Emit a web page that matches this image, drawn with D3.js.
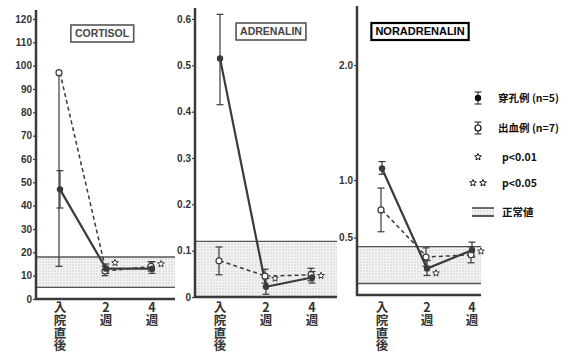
<!DOCTYPE html>
<html>
<head>
<meta charset="utf-8">
<script src="https://cdn.jsdelivr.net/npm/d3@7"></script>
<style>
  html, body { margin: 0; padding: 0; background: #fff; }
  svg { display: block; }
  .tick-label { font-family: "Liberation Sans Narrow", "Liberation Sans", Arial, sans-serif; font-weight: bold; font-size: 10px; fill: #333; }
  .cat { font-family: "Noto Sans CJK JP", sans-serif; font-weight: bold; font-size: 12.5px; fill: #333;
         writing-mode: vertical-rl; text-orientation: upright; letter-spacing: 0.3px; }
  .legend { font-family: "Noto Sans CJK JP", sans-serif; font-weight: bold; font-size: 10.5px; fill: #111; }
</style>
</head>
<body>
<div id="chart"></div>
<script>
// categories on x, shared by the three panels
const categories = ["入院直後", "2週", "4週"];

// CORTISOL
const cortisolPerf = [47, 13, 13];        // 穿孔例 mean
const cortisolPerfLo = [39, 11, 11];
const cortisolPerfHi = [55, 15, 16];
const cortisolBleed = [97, 12, 14];       // 出血例 mean
const cortisolBleedLo = [14, 10, 12];
const cortisolBleedHi = [97, 14, 16];
const cortisolNormal = [5, 18];
const cortisolTicks = [0, 10, 20, 30, 40, 50, 60, 70, 80, 90, 100, 110, 120];
const cortisolStars = [{ cat: "2週", v: 15.5, n: 1 }, { cat: "4週", v: 15, n: 1 }];

// ADRENALIN
const adrenalinPerf = [0.515, 0.022, 0.042];
const adrenalinPerfLo = [0.415, 0.006, 0.03];
const adrenalinPerfHi = [0.61, 0.04, 0.055];
const adrenalinBleed = [0.078, 0.045, 0.048];
const adrenalinBleedLo = [0.048, 0.03, 0.035];
const adrenalinBleedHi = [0.108, 0.06, 0.062];
const adrenalinNormal = [0, 0.12];
const adrenalinTicks = [0, 0.1, 0.2, 0.3, 0.4, 0.5, 0.6];
const adrenalinStars = [{ cat: "2週", v: 0.04, n: 1 }, { cat: "4週", v: 0.046, n: 1 }];

// NORADRENALIN
const noradPerf = [1.1, 0.23, 0.39];
const noradPerfLo = [1.05, 0.17, 0.33];
const noradPerfHi = [1.16, 0.3, 0.46];
const noradBleed = [0.74, 0.33, 0.35];
const noradBleedLo = [0.55, 0.25, 0.28];
const noradBleedHi = [0.93, 0.41, 0.42];
const noradNormal = [0.1, 0.42];
const noradTicks = [0.5, 1.0, 2.0];
const noradStars = [{ cat: "2週", v: 0.19, n: 1 }, { cat: "4週", v: 0.38, n: 1 }];

// legend
const legendItems = ["穿孔例 (n=5)", "出血例 (n=7)", "p<0.01", "p<0.05", "正常値"];

const panels = [
  { title: "CORTISOL", bold: false, perf: cortisolPerf, perfLo: cortisolPerfLo, perfHi: cortisolPerfHi,
    bleed: cortisolBleed, bleedLo: cortisolBleedLo, bleedHi: cortisolBleedHi, normal: cortisolNormal,
    ticks: cortisolTicks, fmt: d3.format("d"), stars: cortisolStars,
    axisX: 36, xr: [60, 152], xEnd: 175, domain: [0, 120], yr: [299, 19], axisTop: 10, titleX: 102, titleY: 33 },
  { title: "ADRENALIN", bold: false, perf: adrenalinPerf, perfLo: adrenalinPerfLo, perfHi: adrenalinPerfHi,
    bleed: adrenalinBleed, bleedLo: adrenalinBleedLo, bleedHi: adrenalinBleedHi, normal: adrenalinNormal,
    ticks: adrenalinTicks, fmt: (d) => (d === 0 ? "0" : d3.format(".1f")(d)), stars: adrenalinStars,
    axisX: 195, xr: [220, 312], xEnd: 337, domain: [0, 0.6], yr: [297, 19], axisTop: 8, titleX: 271, titleY: 31 },
  { title: "NORADRENALIN", bold: true, perf: noradPerf, perfLo: noradPerfLo, perfHi: noradPerfHi,
    bleed: noradBleed, bleedLo: noradBleedLo, bleedHi: noradBleedHi, normal: noradNormal,
    ticks: noradTicks, fmt: d3.format(".1f"), stars: noradStars,
    axisX: 357, xr: [382, 472], xEnd: 481, domain: [0, 2.0], yr: [295, 65], axisTop: 6, titleX: 420, titleY: 31 },
];

const W = 582, H = 356;
const ink = "#3a3a3a";
const svg = d3.select("#chart").append("svg").attr("width", W).attr("height", H);

const defs = svg.append("defs");
const pat = defs.append("pattern").attr("id", "dots").attr("patternUnits", "userSpaceOnUse")
  .attr("width", 3).attr("height", 3);
pat.append("rect").attr("width", 3).attr("height", 3).attr("fill", "#f3f3f3");
pat.append("circle").attr("cx", 1).attr("cy", 1).attr("r", 0.6).attr("fill", "#a8a8a8");

function starPath(cx, cy, r) {
  const pts = [];
  for (let i = 0; i < 10; i++) {
    const a = -Math.PI / 2 + i * Math.PI / 5;
    const rr = i % 2 === 0 ? r : r * 0.45;
    pts.push([cx + rr * Math.cos(a), cy + rr * Math.sin(a)]);
  }
  return "M" + pts.map((p) => p.join(",")).join("L") + "Z";
}

function errorBar(g, x, yLo, yHi, yMid, cap) {
  g.append("line").attr("x1", x).attr("x2", x).attr("y1", yLo).attr("y2", yHi)
    .attr("stroke", ink).attr("stroke-width", 1.2);
  if (yLo !== yMid) g.append("line").attr("x1", x - cap).attr("x2", x + cap).attr("y1", yLo).attr("y2", yLo)
    .attr("stroke", ink).attr("stroke-width", 1.2);
  if (yHi !== yMid) g.append("line").attr("x1", x - cap).attr("x2", x + cap).attr("y1", yHi).attr("y2", yHi)
    .attr("stroke", ink).attr("stroke-width", 1.2);
}

panels.forEach((p) => {
  const g = svg.append("g");
  const x = d3.scalePoint().domain(categories).range(p.xr);
  const y = d3.scaleLinear().domain(p.domain).range(p.yr);
  const y0 = y(0);

  // normal range band
  g.append("rect").attr("x", p.axisX).attr("width", p.xEnd - p.axisX)
    .attr("y", y(p.normal[1])).attr("height", y(p.normal[0]) - y(p.normal[1]))
    .attr("fill", "url(#dots)");
  p.normal.filter((v) => v > 0).forEach((v) => {
    g.append("line").attr("x1", p.axisX).attr("x2", p.xEnd).attr("y1", y(v)).attr("y2", y(v))
      .attr("stroke", "#555").attr("stroke-width", 1.3);
  });

  // axes
  g.append("line").attr("x1", p.axisX).attr("x2", p.axisX).attr("y1", p.axisTop).attr("y2", y0 + 1)
    .attr("stroke", ink).attr("stroke-width", 2.5);
  g.append("line").attr("x1", p.axisX - 1).attr("x2", p.xEnd).attr("y1", y0).attr("y2", y0)
    .attr("stroke", ink).attr("stroke-width", 2.5);
  const yAxis = g.append("g").attr("transform", `translate(${p.axisX},0)`)
    .call(d3.axisLeft(y).tickValues(p.ticks).tickFormat(p.fmt).tickSize(3).tickPadding(1));
  yAxis.select(".domain").remove();
  yAxis.selectAll(".tick line").attr("stroke", ink).attr("stroke-width", 1.2);
  yAxis.selectAll(".tick text").attr("class", "tick-label").attr("fill", null);

  // category labels, written vertically
  g.selectAll("text.cat").data(categories).join("text").attr("class", "cat")
    .attr("x", (c) => x(c)).attr("y", 301).text((c) => c);

  // title box
  const tg = g.append("g");
  const box = tg.append("rect");
  const t = tg.append("text").attr("x", p.titleX).attr("y", p.titleY + 4).attr("text-anchor", "middle")
    .attr("font-family", "'Liberation Sans Narrow', 'Liberation Sans', Arial, sans-serif")
    .attr("font-weight", "bold").attr("font-size", p.bold ? 11 : 10.5)
    .attr("fill", p.bold ? "#000" : "#444").text(p.title);
  const bb = t.node().getBBox();
  box.attr("x", bb.x - 4).attr("y", p.titleY - 8).attr("width", bb.width + 8).attr("height", 17)
    .attr("fill", "#fff").attr("stroke", p.bold ? "#000" : "#555").attr("stroke-width", p.bold ? 2.2 : 1.6);

  const line = d3.line().x((d, i) => x(categories[i])).y((d) => y(d));

  // error bars
  categories.forEach((c, i) => {
    errorBar(g, x(c) - 1, y(p.bleedLo[i]), y(p.bleedHi[i]), y(p.bleed[i]), 3.5);
    errorBar(g, x(c), y(p.perfLo[i]), y(p.perfHi[i]), y(p.perf[i]), 3.5);
  });

  // series lines
  g.append("path").datum(p.bleed).attr("d", line).attr("fill", "none")
    .attr("stroke", ink).attr("stroke-width", 1.5).attr("stroke-dasharray", "4,3");
  g.append("path").datum(p.perf).attr("d", line).attr("fill", "none")
    .attr("stroke", ink).attr("stroke-width", 2.2);

  // markers
  g.selectAll("circle.bleed").data(p.bleed).join("circle").attr("class", "bleed")
    .attr("cx", (d, i) => x(categories[i]) - 1).attr("cy", (d) => y(d)).attr("r", 3)
    .attr("fill", "#fff").attr("stroke", ink).attr("stroke-width", 1.2);
  g.selectAll("circle.perf").data(p.perf).join("circle").attr("class", "perf")
    .attr("cx", (d, i) => x(categories[i])).attr("cy", (d) => y(d)).attr("r", 3.2)
    .attr("fill", ink);

  // significance stars
  p.stars.forEach((s) => {
    for (let k = 0; k < s.n; k++) {
      g.append("path").attr("d", starPath(x(s.cat) + 9 + k * 8, y(s.v), 3.5))
        .attr("fill", "#fff").attr("stroke", ink).attr("stroke-width", 1);
    }
  });
});

// legend
const lg = svg.append("g");
const lx = 478, tx = 498;
const rowY = [98, 128, 157, 183, 212];
// 穿孔例 icon
errorBar(lg, lx, rowY[0] + 6, rowY[0] - 6, rowY[0], 3.5);
lg.append("circle").attr("cx", lx).attr("cy", rowY[0]).attr("r", 3.2).attr("fill", "#111");
// 出血例 icon
errorBar(lg, lx, rowY[1] + 6, rowY[1] - 6, rowY[1], 3.5);
lg.append("circle").attr("cx", lx).attr("cy", rowY[1]).attr("r", 3).attr("fill", "#fff").attr("stroke", "#111").attr("stroke-width", 1.2);
// stars
lg.append("path").attr("d", starPath(lx, rowY[2], 3.5)).attr("fill", "#fff").attr("stroke", "#111").attr("stroke-width", 1);
lg.append("path").attr("d", starPath(lx - 5, rowY[3], 3.5)).attr("fill", "#fff").attr("stroke", "#111").attr("stroke-width", 1);
lg.append("path").attr("d", starPath(lx + 5, rowY[3], 3.5)).attr("fill", "#fff").attr("stroke", "#111").attr("stroke-width", 1);
// normal swatch
lg.append("rect").attr("x", 472).attr("y", rowY[4] - 4).attr("width", 22).attr("height", 8).attr("fill", "url(#dots)");
lg.append("line").attr("x1", 472).attr("x2", 494).attr("y1", rowY[4] - 4).attr("y2", rowY[4] - 4).attr("stroke", "#111").attr("stroke-width", 1.2);
lg.append("line").attr("x1", 472).attr("x2", 494).attr("y1", rowY[4] + 4).attr("y2", rowY[4] + 4).attr("stroke", "#111").attr("stroke-width", 1.4);

legendItems.forEach((txt, i) => {
  lg.append("text").attr("class", "legend").attr("x", i >= 2 ? tx + 4 : tx).attr("y", rowY[i] + 4).text(txt);
});
</script>
</body>
</html>
